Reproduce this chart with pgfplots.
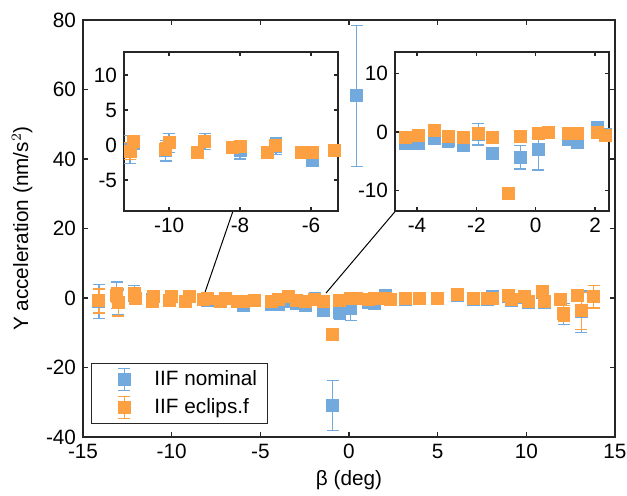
\documentclass[border=0pt]{standalone}
\usepackage{fontspec}
\setmainfont{Liberation Sans}
\usepackage{pgfplots}
\usepackage{pgfplotstable}
\pgfplotsset{compat=1.18}
\definecolor{cnom}{RGB}{114,170,222}
\definecolor{cecl}{RGB}{253,160,66}
\definecolor{axgray}{RGB}{38,38,38}

% x, nominal (y, err), eclips.f (y, err)
\pgfplotstableread{
x      yn     en    ye     ee
-14.1  -0.9   4.9   -0.85  3.45
-13.1   0.8   3.8    0.8   2.1
-13.0  -1.3   3.6   -1.3   3.9
-12.1   1.2   2.3    1.2   1.8
-12.05 -0.2   1.0   -0.1   0.8
-11.1  -0.6   2.0   -0.9   1.2
-11.0   0.3   1.0    0.5   0.8
-10.1  -0.8   1.5   -0.7   1.0
-10.0   0.3   1.4    0.3   0.8
-9.2   -1.0   0.8   -1.0   0.6
-8.99   0.5   1.2    0.5   0.6
-8.2   -0.4   0.8   -0.3   0.6
-8.0   -0.8   1.2   -0.2   0.6
-7.24  -1.1   0.6   -1.1   0.6
-6.99  -0.2   1.2   -0.1   0.6
-6.26  -1.1   0.6   -1.1   0.6
-5.95  -2.2   0.9   -1.0   0.6
-5.33  -0.8   0.6   -0.8   0.6
-4.37  -2.0   0.6   -0.9   0.6
-3.96  -2.0   0.6   -0.5   0.6
-3.42  -1.1   0.6    0.3   0.6
-2.95  -1.5   1.2   -0.8   0.6
-2.44  -2.3   0.6   -1.0   0.6
-1.94  -0.35  1.85  -0.3   0.6
-1.46  -3.6   0.8   -0.9   0.6
-0.92 -31.0   7.2  -10.5   0.6
-0.52  -4.3   2.0   -0.8   0.6
0.09   -3.0   3.5   -0.2   0.6
0.43   58.2  20.3    0.0   0.6
1.1    -1.2   0.6   -0.3   0.6
1.41   -1.7   1.0   -0.2   0.6
2.08    0.7   0.6   -0.1   0.6
2.35   -0.4   0.6   -0.5   0.6
3.16   -0.5   0.6    0.0   0.6
4.0    -0.2   0.6    0.0   0.6
5.0     0.0   0.6    0.0   0.6
6.1     0.8   0.6    0.9   0.6
7.0    -0.3   0.6   -0.2   0.6
7.8    -0.3   0.6   -0.2   0.6
8.1     0.3   0.6    0.0   0.6
9.0     0.5   0.6    0.6   0.6
9.15   -0.7   0.6   -0.5   0.6
9.9     0.2   0.6    0.3   0.6
10.1   -1.3   0.6   -1.1   0.6
10.9    1.7   0.6    1.8   0.6
11.0   -1.2   0.6   -1.1   0.6
11.9   -0.4   0.6   -0.3   0.6
12.1   -4.6   3.0   -4.4   2.2
12.86   0.6   0.6    0.6   1.7
13.1   -4.0   6.0   -3.7   5.3
13.8    0.3   3.3    0.3   3.2
}\data

\pgfplotsset{
  myerr/.style={only marks, color=#1, mark=square*, mark size=3bp,
    mark options={draw=#1, fill=#1, line width=0pt},
    error bars/.cd, y dir=both, y explicit,
    error bar style={line width=0.6pt, #1},
    error mark options={rotate=90, mark size=3bp, line width=0.6pt, #1},
    /pgfplots/.cd},
  errleg/.style={legend image code/.code={
    \path[draw=none, fill=none] (0bp,0bp) (26.25bp,0bp);
    \draw[#1, line width=0.6pt] (13.5bp,-5.5bp) -- (13.5bp,5.5bp)
       (10.5bp,-5.5bp) -- (16.5bp,-5.5bp) (10.5bp,5.5bp) -- (16.5bp,5.5bp);
    \fill[#1] (10.5bp,-3bp) rectangle (16.5bp,3bp);}},
  base/.style={scale only axis,
    axis line style={line width=0.6pt, axgray},
    tick style={line width=0.6pt, axgray},
    tick align=inside,
    font=\fontsize{10.4}{12.5}\selectfont,
    /pgf/number format/assume math mode=true,
    ticklabel style={font=\fontsize{10.4}{12.5}\selectfont}},
}

\begin{document}
\begin{tikzpicture}
\useasboundingbox (-41.5bp,-29.5bp) rectangle (272bp,218.5bp);
\begin{axis}[base, at={(0,0)}, anchor=south west,
  width=266bp, height=208.5bp,
  xmin=-15, xmax=15, ymin=-40, ymax=80,
  xtick={-15,-10,...,15}, ytick={-40,-20,...,80},
  major tick length=2.5bp,
  xlabel={β (deg)}, ylabel={Y acceleration (nm/s$^2$)},
  xlabel style={yshift=1bp},
  legend style={at={(rel axis cs:0.015,0.031)}, anchor=south west,
    draw=axgray, line width=0.5pt, inner xsep=3bp, inner ysep=1bp,
    row sep=0pt,
    nodes={text height=7.5bp, text depth=2bp, inner sep=2.25bp},
    font=\fontsize{10.4}{12.5}\selectfont},
  legend cell align=left,
]
\addlegendimage{errleg=cnom}
\addlegendentry{IIF nominal}
\addlegendimage{errleg=cecl}
\addlegendentry{IIF eclips.f}
\addplot[myerr=cnom, forget plot] table[x=x, y=yn, y error=en] {\data};
\addplot[myerr=cecl, forget plot] table[x=x, y=ye, y error=ee] {\data};
\draw[line width=0.5pt, black] (axis cs:-6.55,24.9) -- (axis cs:-8.15,1.2);
\draw[line width=0.5pt, black] (axis cs:2.6,24.9) -- (axis cs:-1.3,1.4);
\end{axis}

\begin{axis}[base, at={(20.5bp,113bp)}, anchor=south west,
  width=107bp, height=79.5bp,
  axis background/.style={fill=white},
  xmin=-11.27, xmax=-5.24, ymin=-9.43, ymax=13.29,
  xtick={-10,-8,-6}, ytick={-5,0,5,10},
  major tick length=2bp,
]
\addplot[myerr=cnom] table[x=x, y=yn, y error=en] {\data};
\addplot[myerr=cecl] table[x=x, y=ye, y error=ee] {\data};
\end{axis}

\begin{axis}[base, at={(156bp,113bp)}, anchor=south west,
  width=107bp, height=79.5bp,
  axis background/.style={fill=white},
  xmin=-4.74, xmax=2.47, ymin=-13.5, ymax=13.7,
  xtick={-4,-2,0,2}, ytick={-10,0,10},
  major tick length=2bp,
]
\addplot[myerr=cnom] table[x=x, y=yn, y error=en] {\data};
\addplot[myerr=cecl] table[x=x, y=ye, y error=ee] {\data};
\end{axis}
\end{tikzpicture}
\end{document}
